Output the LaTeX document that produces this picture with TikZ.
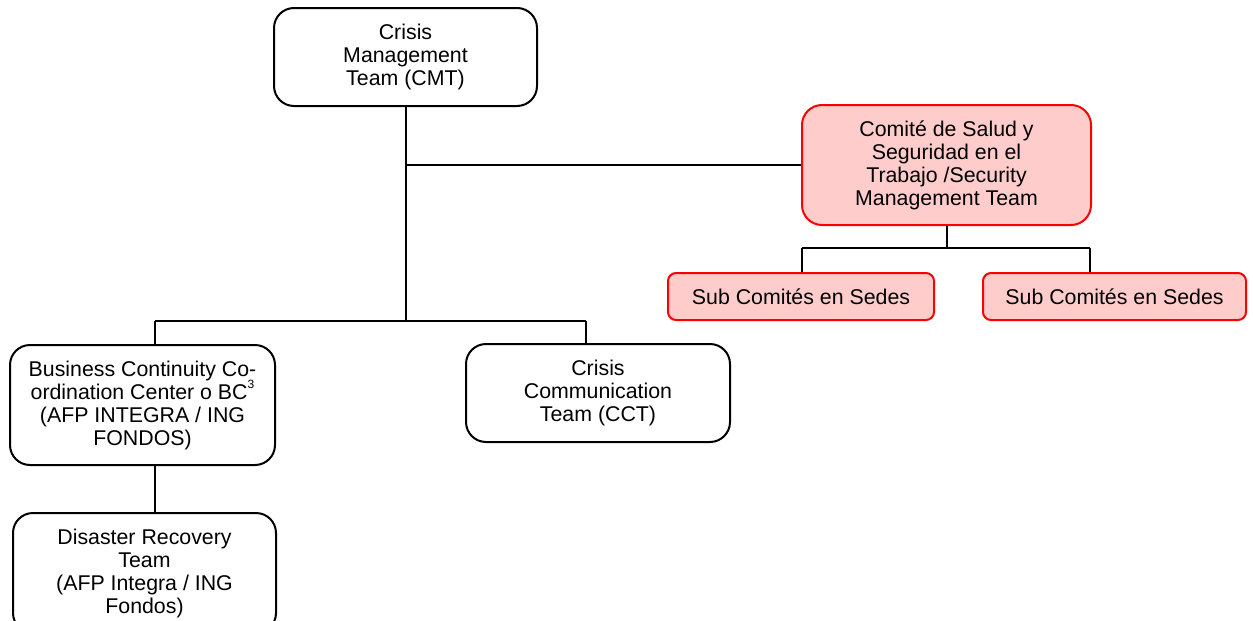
\documentclass[tikz,border=0pt]{standalone}
\usepackage{fontspec}
\setmainfont{Liberation Sans}
\definecolor{boxred}{RGB}{255,0,0}
\definecolor{boxpink}{RGB}{255,204,204}
\begin{document}
\begin{tikzpicture}[x=0.75pt,y=-0.75pt,
  every node/.style={font=\fontsize{16}{17.25}\selectfont, align=center, inner sep=0pt},
  blackbox/.style={draw=black, line width=1.5pt, rounded corners=15pt, fill=white},
  redbox/.style={draw=boxred, line width=1.5pt, fill=boxpink},
  link/.style={draw=black, line width=1.5pt}]
\clip (0,0) rectangle (1253,621);
\useasboundingbox (0,0) rectangle (1253,621);
\fill[white] (0,0) rectangle (1253,621);

\node[blackbox, minimum width=197.25pt, minimum height=73.5pt] (CMT) at (405.5,57) {Crisis\\Management\\Team (CMT)};
\node[redbox, rounded corners=15pt, minimum width=216.75pt, minimum height=90pt] (SMT) at (946.5,165) {Comité de Salud y\\Seguridad en el\\Trabajo /Security\\Management Team};
\node[redbox, rounded corners=6pt, minimum width=199.5pt, minimum height=35.25pt] (S1) at (801,296.5) {Sub Comités en Sedes};
\node[redbox, rounded corners=6pt, minimum width=197.25pt, minimum height=35.25pt] (S2) at (1114.5,296.5) {Sub Comités en Sedes};
\node[blackbox, minimum width=198.75pt, minimum height=90pt] (BC) at (142.5,405) {Business Continuity Co-\\ordination Center o BC\raisebox{0.9ex}{\fontsize{9}{9}\selectfont 3}\\(AFP INTEGRA / ING\\FONDOS)};
\node[blackbox, minimum width=198pt, minimum height=73.5pt] (CCT) at (598,393) {Crisis\\Communication\\Team (CCT)};
\node[blackbox, minimum width=197.25pt, minimum height=90pt] (DR) at (144.5,573) {Disaster Recovery\\Team\\(AFP Integra / ING\\Fondos)};

\coordinate (bl) at (155,321);
\coordinate (br) at (586,321);
\coordinate (sl) at (802,248);
\coordinate (sr) at (1090,248);

\draw[link] (CMT.south) -- (CMT.south |- bl);
\draw[link] (CMT.south |- SMT.west) -- (SMT.west);
\draw[link] (bl) -- (br);
\draw[link] (bl) -- (bl |- BC.north);
\draw[link] (br) -- (br |- CCT.north);
\draw[link] (SMT.south) -- (SMT.south |- sl);
\draw[link] (sl) -- (sr);
\draw[link] (sl) -- (sl |- S1.north);
\draw[link] (sr) -- (sr |- S2.north);
\draw[link] (bl |- BC.south) -- (bl |- DR.north);
\end{tikzpicture}
\end{document}
